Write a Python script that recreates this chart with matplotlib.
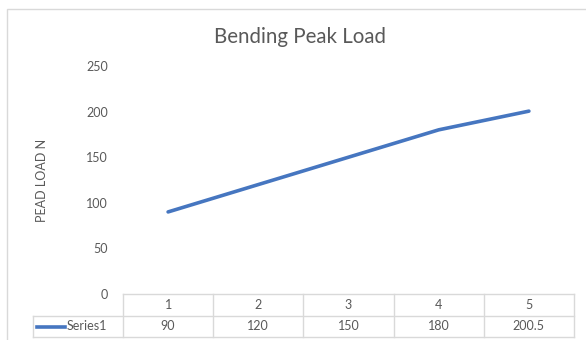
import matplotlib.pyplot as plt
from matplotlib.patches import Rectangle

categories = ['1', '2', '3', '4', '5']
peak_load = [90, 120, 150, 180, 200.5]
value_labels = ['90', '120', '150', '180', '200.5']
series_name = 'Series1'
y_ticks = [0, 50, 100, 150, 200, 250]

plt.rcParams['font.family'] = ['Lato', 'DejaVu Sans']

W, H = 586, 340
fig = plt.figure(figsize=(W / 100, H / 100), dpi=100)

# plot area in pixel terms
left, right, top, bottom = 123, 574, 66, 294
ax = fig.add_axes([left / W, 1 - bottom / H, (right - left) / W, (bottom - top) / H])

line_col = '#4676C0'
text_col = '#595959'
grid_col = '#D9D9D9'

x = list(range(1, len(categories) + 1))
ax.plot(x, peak_load, color=line_col, lw=2.6, solid_capstyle='round')
ax.set_xlim(0.5, len(categories) + 0.5)
ax.set_ylim(0, 250)
ax.set_yticks(y_ticks)
ax.set_yticklabels([str(v) for v in y_ticks], color=text_col, fontsize=9)
ax.tick_params(axis='y', length=0, pad=11)
ax.set_xticks([])
for s in ax.spines.values():
    s.set_visible(False)

ax.set_ylabel('PEAD LOAD N', color=text_col, fontsize=9, labelpad=27)
fig.text(300 / W, 1 - 37 / H, 'Bending Peak Load', ha='center', va='center',
         fontsize=14.8, color=text_col)

# data table under the plot
ph = bottom - top
row1 = -22 / ph
row2 = -43 / ph
key_left = 0.5 - (left - 33) / ((right - left) / len(categories))
tr = ax.get_xaxis_transform()
n = len(categories)
kw = dict(color=grid_col, lw=1, transform=tr, clip_on=False)
ax.plot([0.5, n + 0.5], [0, 0], **kw)
ax.plot([key_left, n + 0.5], [row1, row1], **kw)
ax.plot([key_left, n + 0.5], [row2, row2], **kw)
ax.plot([key_left, key_left], [row1, row2], **kw)
for b in range(n + 1):
    ax.plot([b + 0.5, b + 0.5], [0, row2], **kw)
for i, c in enumerate(categories):
    ax.text(i + 1, row1 / 2, c, transform=tr, ha='center', va='center',
            fontsize=9, color=text_col)
    ax.text(i + 1, (row1 + row2) / 2, value_labels[i], transform=tr,
            ha='center', va='center', fontsize=9, color=text_col)
# legend key inside the first column
ymid = (row1 + row2) / 2
ax.plot([key_left + 0.04, key_left + 0.36], [ymid, ymid], color=line_col, lw=2.6,
        transform=tr, clip_on=False)
ax.text(key_left + 0.37, ymid, series_name, transform=tr, ha='left', va='center',
        fontsize=9, color=text_col)

# chart border
fig.patches.append(Rectangle((7 / W, -0.1), 1.2, 1.1 - 9 / H, transform=fig.transFigure,
                             fill=False, edgecolor=grid_col, lw=1))

fig.savefig('out.png', dpi=100)
